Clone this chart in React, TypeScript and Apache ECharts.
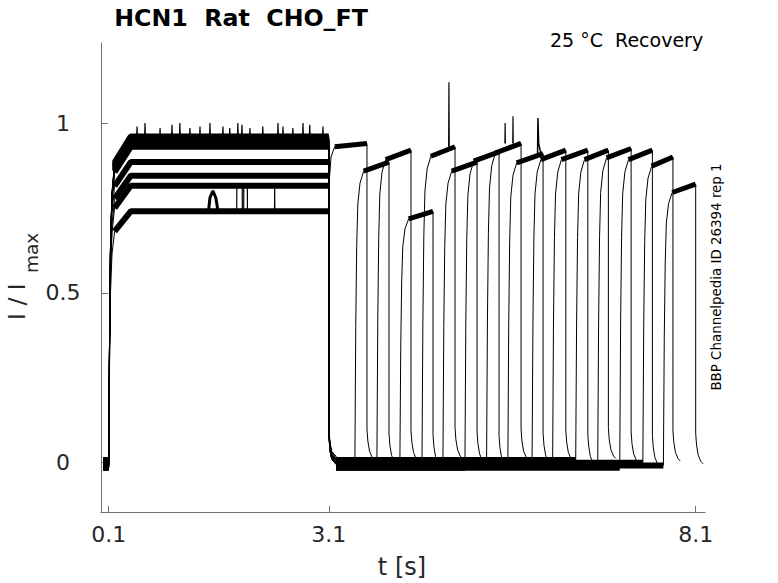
import React, { useEffect, useRef } from "react";
import * as echarts from "echarts";

// ---- axis ticks ----
const xTicks = [0.1, 3.1, 8.1];
const yTicks = [0, 0.5, 1];

// ---- per sweep values (16 sweeps) ----
const prepulseLevel = [0.955, 0.885, 0.94, 0.74, 0.95, 0.845, 0.935, 0.96, 0.945, 0.93, 0.95, 0.94, 0.955, 0.935, 0.945, 0.815];
const testStart = [3.115, 3.455, 3.755, 4.068, 4.37, 4.655, 4.955, 5.25, 5.54, 5.87, 6.15, 6.465, 6.765, 7.065, 7.38, 7.66];
const testEnd = [3.62, 3.92, 4.22, 4.52, 4.82, 5.12, 5.42, 5.72, 6.02, 6.33, 6.63, 6.91, 7.22, 7.51, 7.79, 8.1];
const testLevel = [0.94, 0.885, 0.92, 0.74, 0.93, 0.885, 0.915, 0.94, 0.91, 0.92, 0.92, 0.92, 0.925, 0.92, 0.9, 0.82];
const baselineOffset = [0.004, -0.008, 0.0, -0.012, 0.008, -0.004, -0.015, 0.004, -0.008, 0.0, -0.012, 0.008, -0.004, -0.015, 0.0, -0.008];

// activation at 0.1 s: [t, fraction of prepulse level]
const prepulseRise = [[0.1, 0], [0.112, 0.4], [0.125, 0.68], [0.145, 0.83], [0.18, 0.92]];
// test pulse activation: [dt from start, fraction of test level]
const testRise = [[0, 0], [0.012, 0.45], [0.025, 0.72], [0.04, 0.86], [0.07, 0.93], [0.12, 0.97]];
// tail after the prepulse at 3.1 s: [t, I]
const prepulseTail = [[3.1, 0.1], [3.115, 0.05], [3.14, 0.025], [3.2, 0.01]];
// tail after each test pulse: [dt from end, I]
const testTail = [[0, 0.095], [0.012, 0.06], [0.035, 0.03], [0.07, 0.012], [0.1, 0.005]];
// first sweep passes straight into its test pulse
const sweep0Transition = [[3.1, 0.955], [3.11, 0.84], [3.13, 0.9], [3.18, 0.93]];
// noise peaks above the dense top band of the prepulse: [t, I]
const topBandPeaks = [
  [0.486, 0.99], [0.595, 1.0], [0.8, 0.985], [0.962, 0.995], [1.07, 1.0], [1.207, 0.985], [1.344, 0.99], [1.48, 1.0],
  [1.657, 0.99], [1.75, 0.985], [1.86, 1.0], [1.916, 0.995], [2.025, 0.985], [2.2, 0.99], [2.407, 1.0], [2.475, 0.99],
  [2.61, 0.985], [2.748, 1.0], [2.84, 0.995], [3.02, 0.99],
];
const TOP_BAND = 0.955;
// artefacts seen on single sweeps
const artefactShapes = [
  [[1.46, 0.74], [1.48, 0.78], [1.52, 0.8], [1.56, 0.78], [1.59, 0.74]],
  [[1.845, 0.74], [1.846, 0.82], [1.92, 0.82], [1.921, 0.74], [1.94, 0.74], [1.941, 0.82], [1.99, 0.82], [1.991, 0.74]],
  [[2.36, 0.74], [2.362, 0.81], [2.364, 0.74]],
  [[4.733, 0.93], [4.737, 1.12], [4.741, 0.93]],
  [[5.5, 0.94], [5.503, 1.0], [5.506, 0.94]],
  [[5.607, 0.94], [5.61, 1.02], [5.613, 0.94]],
  [[5.945, 0.91], [5.95, 1.015], [5.96, 0.94], [5.99, 0.91]],
];
const artefactWidth = [3, 1.2, 1.2, 1.2, 1.2, 1.2, 1.5];

const PRE_W = 6;
const TEST_W = 5;
const BASE_W = 6;
const THIN = 1;

function seg(data: number[][], width: number) {
  return {
    type: "line",
    data,
    showSymbol: false,
    symbol: "none",
    silent: true,
    clip: true,
    lineStyle: { color: "#000", width },
  };
}

function buildSeries() {
  const out: any[] = [];
  for (let k = 0; k < prepulseLevel.length; k++) {
    const P = prepulseLevel[k];
    const L = testLevel[k];
    const off = baselineOffset[k];
    const s = testStart[k];
    const e = testEnd[k];
    out.push(seg([[0.025, off], [0.1, off]], BASE_W));
    out.push(seg(prepulseRise.map(([t, f]) => [t, f === 0 ? off : f * P]), THIN));
    const riseTop = prepulseRise[prepulseRise.length - 1];
    out.push(seg([[riseTop[0], riseTop[1] * P], [0.4, P], [3.1, P]], PRE_W));
    if (k === 0) {
      out.push(seg(sweep0Transition, THIN));
      const last = sweep0Transition[sweep0Transition.length - 1];
      out.push(seg([[last[0], last[1]], [e, L]], TEST_W));
    } else {
      out.push(seg([[3.1, P], ...prepulseTail.map(([t, v]) => [t, v + off])], THIN));
      const last = prepulseTail[prepulseTail.length - 1][0];
      out.push(seg([[last, off], [s, off]], BASE_W));
      out.push(seg(testRise.map(([dt, f]) => [s + dt, f === 0 ? off : f * L]), THIN));
      const riseEnd = testRise[testRise.length - 1];
      out.push(seg([[s + riseEnd[0], riseEnd[1] * L], [e, L]], TEST_W));
    }
    out.push(seg([[e, L], ...testTail.map(([dt, v]) => [e + dt, v + off])], THIN));
  }
  topBandPeaks.forEach(([t, v]) => {
    out.push(seg([[t - 0.006, TOP_BAND], [t, v], [t + 0.006, TOP_BAND]], 1.2));
  });
  artefactShapes.forEach((shape, i) => out.push(seg(shape, artefactWidth[i])));
  return out;
}

const FONT = "DejaVu Sans";

export default function App() {
  const ref = useRef<HTMLDivElement>(null);
  useEffect(() => {
    if (!ref.current) return;
    const chart = echarts.init(ref.current, null, { renderer: "svg" });
    chart.setOption({
      animation: false,
      backgroundColor: "#fff",
      grid: { left: 101, top: 43, width: 604, height: 469 },
      xAxis: {
        type: "value",
        min: -0.005,
        max: 8.227,
        splitLine: { show: false },
        axisLine: { show: true, onZero: false, lineStyle: { color: "#707070", width: 1 } },
        axisTick: { show: true, inside: true, length: 6, customValues: xTicks, lineStyle: { color: "#707070" } },
        axisLabel: {
          customValues: xTicks,
          formatter: (v: number) => v.toFixed(1),
          color: "#262626",
          fontSize: 22,
          fontFamily: FONT,
          margin: 22,
          verticalAlign: "middle",
        },
      },
      yAxis: {
        type: "value",
        min: -0.145,
        max: 1.2355,
        splitLine: { show: false },
        axisLine: { show: true, onZero: false, lineStyle: { color: "#707070", width: 1 } },
        axisTick: { show: true, inside: true, length: 7, customValues: yTicks, lineStyle: { color: "#707070" } },
        axisLabel: {
          customValues: yTicks,
          formatter: (v: number) => String(v),
          color: "#262626",
          fontSize: 22,
          fontFamily: FONT,
          margin: 38,
          align: "center",
        },
      },
      series: buildSeries(),
      graphic: [
        {
          type: "text",
          x: 241,
          y: 17.7,
          style: { text: "HCN1  Rat  CHO_FT", fontSize: 23.7, fontWeight: "bold", fontFamily: FONT, fill: "#000", align: "center", verticalAlign: "middle" },
        },
        {
          type: "text",
          x: 550,
          y: 39.7,
          style: { text: "25 °C  Recovery", fontSize: 19, fontFamily: FONT, fill: "#000", align: "left", verticalAlign: "middle" },
        },
        {
          type: "text",
          x: 402,
          y: 567,
          style: { text: "t [s]", fontSize: 24, fontFamily: FONT, fill: "#262626", align: "center", verticalAlign: "middle" },
        },
        {
          type: "text",
          x: 16.5,
          y: 320,
          rotation: Math.PI / 2,
          style: { text: "I / I", fontSize: 23.5, fontFamily: FONT, fill: "#262626", align: "left", verticalAlign: "middle" },
        },
        {
          type: "text",
          x: 31,
          y: 273,
          rotation: Math.PI / 2,
          style: { text: "max", fontSize: 18.5, fontFamily: FONT, fill: "#262626", align: "left", verticalAlign: "middle" },
        },
        {
          type: "text",
          x: 716,
          y: 277,
          rotation: Math.PI / 2,
          style: { text: "BBP Channelpedia ID 26394 rep 1", fontSize: 13.4, fontFamily: FONT, fill: "#000", align: "center", verticalAlign: "middle" },
        },
      ],
    });
    return () => chart.dispose();
  }, []);
  return <div ref={ref} style={{ position: "absolute", left: 0, top: 0, width: 778, height: 583 }} />;
}
